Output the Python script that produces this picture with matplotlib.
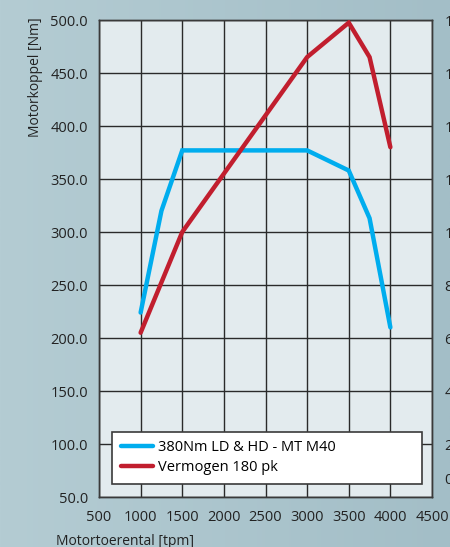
import numpy as np
import matplotlib
matplotlib.use('Agg')
import matplotlib.pyplot as plt
import matplotlib.transforms as mtransforms
from matplotlib.colors import LinearSegmentedColormap

# Toerental (tpm) en waarden
rpm_koppel = [1000, 1250, 1500, 2000, 2500, 3000, 3500, 3750, 4000]
koppel = [224, 320, 377, 377, 377, 377, 358, 313, 210]

rpm_vermogen = [1000, 1500, 2000, 2500, 3000, 3500, 3750, 4000]
vermogen = [62, 100, 122, 144, 166, 179, 166, 132]

x_ticks = [500, 1000, 1500, 2000, 2500, 3000, 3500, 4000, 4500]
y_left_ticks = [50, 100, 150, 200, 250, 300, 350, 400, 450, 500]
y_right_ticks = [0, 20, 40, 60, 80, 100, 120, 140, 160, 180]

plt.rcParams['font.family'] = ['Open Sans', 'DejaVu Sans']

fig = plt.figure(figsize=(4.5, 5.47), dpi=100)
fig.patch.set_facecolor('#aec7cf')

# zachte achtergrondverloop
bg = fig.add_axes([0, 0, 1, 1], zorder=-10)
grad = np.linspace(0, 1, 256).reshape(1, -1)
grad = np.vstack([grad] * 2)
cmap = LinearSegmentedColormap.from_list('bg', ['#b4ccd3', '#a3bec7'])
bg.imshow(grad, aspect='auto', cmap=cmap, extent=[0, 1, 0, 1])
bg.axis('off')

ax = fig.add_axes([0.22, 0.0914, 0.74, 0.872])
ax.set_facecolor('#e3ebee')
ax2 = ax.twinx()

ax.set_xlim(500, 4500)
ax.set_ylim(50, 500)
ax2.set_ylim(0, 180)

ax.set_xticks(x_ticks)
ax.set_yticks(y_left_ticks)
ax.set_yticklabels([f"{v:.1f}" for v in y_left_ticks])
ax2.set_yticks(y_right_ticks)
ax.grid(True, color='#2a2a2a', linewidth=1.0)
ax.set_axisbelow(True)

for a in (ax, ax2):
    for s in a.spines.values():
        s.set_color('#3a3a3a')
        s.set_linewidth(1.0)

ax.tick_params(axis='y', length=0, labelsize=10.5, colors='#222222', pad=8)
ax.tick_params(axis='x', length=0, labelsize=10.5, colors='#222222', pad=9)
ax2.tick_params(axis='y', length=0, labelsize=10.5, colors='#222222', pad=9)

# het label "0" rechts staat in het origineel iets hoger
lbl0 = ax2.yaxis.get_major_ticks()[0].label2
lbl0.set_transform(lbl0.get_transform() + mtransforms.ScaledTranslation(0, 0.19, fig.dpi_scale_trans))

l1, = ax.plot(rpm_koppel, koppel, color='#00adee', linewidth=3.2,
              solid_capstyle='round', solid_joinstyle='miter', label='380Nm LD & HD - MT M40', zorder=3)
l2, = ax2.plot(rpm_vermogen, vermogen, color='#c11e2e', linewidth=3.2,
               solid_capstyle='round', solid_joinstyle='miter', label='Vermogen 180 pk', zorder=3)

leg = ax2.legend(handles=[l1, l2], loc='lower left', bbox_to_anchor=(0.04, 0.027, 0.93, 0.11),
                 mode='expand', fontsize=10.5, frameon=True, fancybox=False, borderpad=0.6,
                 handlelength=2.2, handletextpad=0.3, borderaxespad=0, labelspacing=0.35)
leg.get_frame().set_edgecolor('#3a3a3a')
leg.get_frame().set_linewidth(1.2)
leg.get_frame().set_facecolor('white')
leg.get_frame().set_alpha(1)

ax.set_ylabel('Motorkoppel [Nm]', loc='top', fontsize=10, color='#222222')
ax.yaxis.set_label_coords(-0.168, 1.005)
ax.set_xlabel('Motortoerental [tpm]', loc='left', fontsize=10, color='#222222')
ax.xaxis.set_label_coords(-0.13, -0.078)

fig.savefig('out.png', dpi=100, facecolor=fig.get_facecolor())
